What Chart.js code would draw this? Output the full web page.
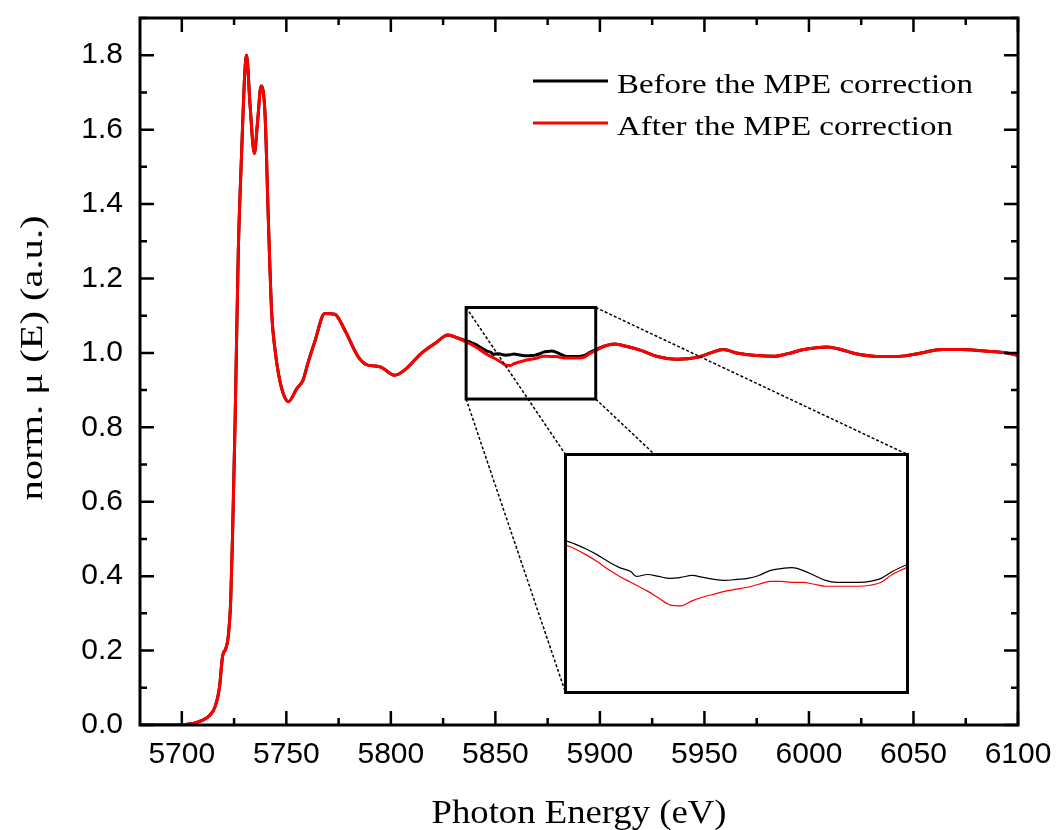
<!DOCTYPE html>
<html>
<head>
<meta charset="utf-8">
<script src="https://cdn.jsdelivr.net/npm/chart.js@4.4.1/dist/chart.umd.min.js"></script>
<style>
  html, body { margin: 0; padding: 0; background: #fff; }
  #contenedor { position: relative; width: 1056px; height: 830px; }
  #grafico { position: absolute; left: 0; top: 0; }
  #detalle { position: absolute; left: 564px; top: 453px; }
</style>
</head>
<body>
<div id="contenedor">
  <canvas id="grafico" width="1056" height="830"></canvas>
  <canvas id="detalle" width="345" height="241"></canvas>
</div>
<script>
const energia = [
  5680, 5690, 5700, 5706, 5710, 5713, 5716, 5718, 5719.5, 5721, 5722.2, 5723.4, 5724.3, 5725.5,
  5727, 5728.6, 5730.2, 5731, 5732.6, 5734.7, 5736.3, 5737.9, 5739.8, 5741.4, 5743, 5744.6,
  5746.2, 5748.5, 5751, 5755, 5758, 5760.5, 5763.6, 5768.4, 5773.2, 5778, 5784.3, 5789, 5794.7,
  5801.8, 5806.6, 5814.6, 5821, 5827.3, 5832,
  5836, 5838, 5840, 5842, 5844, 5846, 5848, 5849, 5851, 5853, 5855, 5857, 5859, 5861, 5863,
  5865, 5867, 5869, 5871, 5873, 5875, 5877, 5879, 5881, 5883, 5885, 5887, 5889, 5891, 5893,
  5895, 5898,
  5902, 5907, 5913, 5920, 5927, 5937, 5946.6, 5953, 5959, 5966, 5975, 5983, 5990, 5997.5,
  6008.7, 6016, 6023, 6031, 6039, 6046, 6053, 6063.7, 6073, 6084, 6094.7, 6100
];

const antesMPE = [
  0, 0, 0.001, 0.005, 0.013, 0.024, 0.05, 0.1, 0.185, 0.205, 0.237, 0.336, 0.516, 0.819,
  1.268, 1.536, 1.76, 1.80, 1.67, 1.536, 1.625, 1.717, 1.643, 1.357, 1.106, 1.008,
  0.945, 0.891, 0.869, 0.904, 0.927, 0.976, 1.03, 1.106, 1.104, 1.061, 0.99, 0.967, 0.963,
  0.94, 0.954, 0.999, 1.025, 1.048, 1.040,
  1.033, 1.029, 1.024, 1.018, 1.011, 1.005, 1.001, 0.996, 0.998, 0.996, 0.994, 0.995, 0.997, 0.995, 0.993,
  0.992, 0.993, 0.994, 0.997, 1.002, 1.004, 1.005, 1.002, 0.997, 0.992, 0.990, 0.990, 0.990, 0.991, 0.994,
  1.001, 1.009,
  1.018, 1.024, 1.017, 1.006, 0.991, 0.983, 0.988, 1.000, 1.009, 0.999, 0.993, 0.991, 0.998, 1.009,
  1.016, 1.008, 0.997, 0.991, 0.990, 0.992, 0.999, 1.009, 1.009, 1.005, 1.000, 0.993
];

const despuesMPE = [
  0, 0, 0.001, 0.005, 0.013, 0.024, 0.05, 0.1, 0.185, 0.205, 0.237, 0.336, 0.516, 0.819,
  1.268, 1.536, 1.76, 1.80, 1.67, 1.536, 1.625, 1.717, 1.643, 1.357, 1.106, 1.008,
  0.945, 0.891, 0.869, 0.904, 0.927, 0.976, 1.03, 1.106, 1.104, 1.061, 0.99, 0.967, 0.963,
  0.94, 0.954, 0.999, 1.025, 1.048, 1.040,
  1.029, 1.024, 1.018, 1.011, 1.003, 0.996, 0.990, 0.987, 0.981, 0.974, 0.967, 0.966, 0.971, 0.975, 0.978,
  0.981, 0.983, 0.985, 0.988, 0.991, 0.991, 0.990, 0.990, 0.988, 0.986, 0.986, 0.986, 0.986, 0.987, 0.990,
  0.998, 1.006,
  1.018, 1.024, 1.017, 1.006, 0.991, 0.983, 0.988, 1.000, 1.009, 0.999, 0.993, 0.991, 0.998, 1.009,
  1.016, 1.008, 0.997, 0.991, 0.990, 0.992, 0.999, 1.009, 1.009, 1.005, 1.000, 0.993
];

const etiquetas = ['Before the MPE correction', 'After the MPE correction'];
const colores = ['#000000', '#ff0000'];

// Ventana ampliada (rango de ejes del recuadro)
const zoomE = [5836, 5898];
const zoomMu = [0.876, 1.122];

const serie = (vals) => energia.map((e, i) => ({ x: e, y: vals[i] }));

function textoEstirado(ctx, texto, x, y, ancho, rot) {
  const w = ctx.measureText(texto).width;
  ctx.save();
  ctx.translate(x, y);
  if (rot) ctx.rotate(rot);
  ctx.scale(ancho / w, 1);
  ctx.fillText(texto, 0, 0);
  ctx.restore();
}

// Marco, ticks hacia dentro, recuadro, leyenda y titulos
const marcoPlugin = {
  id: 'marco',
  afterDraw(chart) {
    const { ctx, chartArea: a, scales: { x, y } } = chart;
    ctx.save();
    ctx.strokeStyle = '#000';
    ctx.lineWidth = 2.5;
    ctx.beginPath();
    for (let e = 5700; e <= 6100; e += 25) {
      const px = x.getPixelForValue(e);
      const l = e % 50 === 0 ? 14 : 7;
      ctx.moveTo(px, a.bottom); ctx.lineTo(px, a.bottom - l);
      ctx.moveTo(px, a.top); ctx.lineTo(px, a.top + l);
    }
    for (let i = 0; i <= 19; i++) {
      const py = y.getPixelForValue(i / 10);
      const l = i % 2 === 0 ? 14 : 7;
      ctx.moveTo(a.left, py); ctx.lineTo(a.left + l, py);
      ctx.moveTo(a.right, py); ctx.lineTo(a.right - l, py);
    }
    ctx.stroke();
    ctx.lineWidth = 3;
    ctx.strokeRect(a.left, a.top, a.right - a.left, a.bottom - a.top);

    // recuadro de la zona ampliada
    const x0 = x.getPixelForValue(zoomE[0]), x1 = x.getPixelForValue(zoomE[1]);
    const y0 = y.getPixelForValue(zoomMu[1]), y1 = y.getPixelForValue(zoomMu[0]);
    ctx.strokeRect(x0, y0, x1 - x0, y1 - y0);

    // lineas punteadas hacia el detalle
    const d = document.getElementById('detalle');
    const dl = d.offsetLeft + 1.5, dt = d.offsetTop + 1.5;
    const dr = d.offsetLeft + d.width - 1.5, db = d.offsetTop + d.height - 1.5;
    ctx.lineWidth = 1.5;
    ctx.setLineDash([3, 2]);
    ctx.beginPath();
    ctx.moveTo(x0, y0); ctx.lineTo(dl, dt);
    ctx.moveTo(x1, y0); ctx.lineTo(dr, dt);
    ctx.moveTo(x0, y1); ctx.lineTo(dl, db);
    ctx.moveTo(x1, y1); ctx.lineTo(dr, db);
    ctx.stroke();
    ctx.setLineDash([]);

    // leyenda
    ctx.fillStyle = '#000';
    ctx.font = '28px "Liberation Serif", "Times New Roman", serif';
    ctx.textAlign = 'left';
    ctx.textBaseline = 'alphabetic';
    const sx = 356 / ctx.measureText(etiquetas[0]).width;
    etiquetas.forEach((txt, i) => {
      const ly = 81 + i * 42;
      ctx.strokeStyle = colores[i];
      ctx.lineWidth = 3;
      ctx.beginPath();
      ctx.moveTo(533, ly); ctx.lineTo(608, ly);
      ctx.stroke();
      const w = ctx.measureText(txt).width;
      textoEstirado(ctx, txt, 617, ly + 12, w * sx);
    });

    // titulos de ejes
    ctx.textAlign = 'center';
    ctx.font = '34px "Liberation Serif", "Times New Roman", serif';
    textoEstirado(ctx, 'Photon Energy (eV)', (a.left + a.right) / 2, 823, 295);
    ctx.font = '31px "Liberation Serif", "Times New Roman", serif';
    textoEstirado(ctx, 'norm. \u03bc (E) (a.u.)', 42, 358, 285, -Math.PI / 2);
    ctx.restore();
  }
};

Chart.defaults.font.family = '"Liberation Sans", Arial, sans-serif';
Chart.defaults.color = '#000';

// sin margenes extra de las etiquetas: el area queda fijada por layout.padding
const sinMargen = s => { s.paddingLeft = 0; s.paddingRight = 0; s.paddingTop = 0; s.paddingBottom = 0; };

const grafico = new Chart(document.getElementById('grafico'), {
  type: 'line',
  data: {
    datasets: [
      { label: etiquetas[0], data: serie(antesMPE), borderColor: colores[0], borderWidth: 3,
        pointRadius: 0, cubicInterpolationMode: 'monotone', order: 1 },
      { label: etiquetas[1], data: serie(despuesMPE), borderColor: colores[1], borderWidth: 3,
        pointRadius: 0, cubicInterpolationMode: 'monotone', order: 0 }
    ]
  },
  options: {
    responsive: false,
    animation: false,
    devicePixelRatio: 1,
    layout: { padding: { left: 0, top: 18, right: 38, bottom: 0 } },
    plugins: { legend: { display: false }, tooltip: { enabled: false } },
    scales: {
      x: {
        type: 'linear', min: 5680, max: 6100,
        grid: { display: false, drawTicks: false },
        border: { display: false },
        ticks: { stepSize: 50, includeBounds: false, autoSkip: false, maxRotation: 0, padding: 12,
          font: { size: 30 }, callback: v => String(v) },
        afterFit: s => { s.height = 105; sinMargen(s); }
      },
      y: {
        min: 0, max: 1.9,
        grid: { display: false, drawTicks: false },
        border: { display: false },
        ticks: { stepSize: 0.2, includeBounds: false, padding: 17, font: { size: 30 },
          callback: v => v.toFixed(1) },
        afterFit: s => { s.width = 140; sinMargen(s); }
      }
    }
  },
  plugins: [marcoPlugin]
});

// Detalle ampliado
const detallePlugin = {
  id: 'detalleMarco',
  beforeDraw(chart) {
    const ctx = chart.ctx;
    ctx.save();
    ctx.fillStyle = '#fff';
    ctx.fillRect(0, 0, chart.width, chart.height);
    ctx.restore();
  },
  afterDraw(chart) {
    const ctx = chart.ctx;
    ctx.save();
    ctx.strokeStyle = '#000';
    ctx.lineWidth = 3;
    ctx.strokeRect(1.5, 1.5, chart.width - 3, chart.height - 3);
    ctx.restore();
  }
};

const detalle = new Chart(document.getElementById('detalle'), {
  type: 'line',
  data: {
    datasets: [
      { label: etiquetas[0], data: serie(antesMPE), borderColor: colores[0], borderWidth: 1.2,
        pointRadius: 0, cubicInterpolationMode: 'monotone', order: 1 },
      { label: etiquetas[1], data: serie(despuesMPE), borderColor: colores[1], borderWidth: 1.2,
        pointRadius: 0, cubicInterpolationMode: 'monotone', order: 0 }
    ]
  },
  options: {
    responsive: false,
    animation: false,
    devicePixelRatio: 1,
    layout: { padding: 0 },
    plugins: { legend: { display: false }, tooltip: { enabled: false } },
    scales: {
      x: { type: 'linear', min: zoomE[0], max: zoomE[1], display: false },
      y: { min: zoomMu[0], max: zoomMu[1], display: false }
    }
  },
  plugins: [detallePlugin]
});
</script>
</body>
</html>
